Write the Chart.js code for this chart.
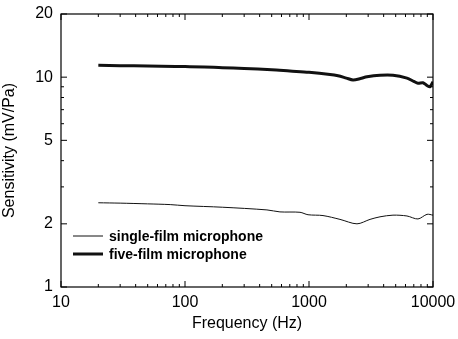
<!DOCTYPE html>
<html>
<head>
<meta charset="utf-8">
<script src="https://cdn.jsdelivr.net/npm/chart.js@4"></script>
<style>
  html, body { margin: 0; padding: 0; background: #fff; }
  #wrap { width: 458px; height: 339px; }
</style>
</head>
<body>
<div id="wrap"><canvas id="c" width="458" height="339"></canvas></div>
<script>
// ---- data ----
const freqSingle = [20, 30, 50, 76, 100, 200, 458, 583, 846, 982, 1297, 1778, 2438, 3105, 3738, 4757, 6166, 7568, 8950, 10000];
const singleFilm = [2.52, 2.51, 2.49, 2.47, 2.44, 2.40, 2.33, 2.28, 2.27, 2.21, 2.19, 2.10, 2.00, 2.10, 2.16, 2.20, 2.18, 2.11, 2.22, 2.20];

const freqFive = [20, 30, 50, 100, 200, 300, 500, 700, 1000, 1476, 1714, 2000, 2264, 2600, 2937, 3738, 4757, 6166, 7000, 7568, 8300, 9000, 9460, 10000];
const fiveFilm = [11.4, 11.35, 11.3, 11.25, 11.1, 11.0, 10.85, 10.7, 10.55, 10.3, 10.15, 9.9, 9.7, 9.85, 10.05, 10.22, 10.22, 9.9, 9.55, 9.35, 9.41, 9.1, 9.0, 9.5];

const seriesNames = ['single-film microphone', 'five-film microphone'];

const xMajor = [10, 100, 1000, 10000];
const xMinor = [20, 30, 40, 50, 60, 70, 80, 90, 200, 300, 400, 500, 600, 700, 800, 900,
                2000, 3000, 4000, 5000, 6000, 7000, 8000, 9000];
const yMajor = [1, 2, 5, 10, 20];
const yMinor = [3, 4, 6, 7, 8, 9];

const FONT = "'Liberation Sans', Arial, Helvetica, sans-serif";
Chart.defaults.font.family = FONT;
Chart.defaults.color = '#000';

const pts = (xs, ys) => xs.map((x, i) => ({ x, y: ys[i] }));

// frame, inward ticks on all four sides, legend inside the plot
const framePlugin = {
  id: 'frame',
  afterDraw(chart) {
    const { ctx, chartArea: { left, right, top, bottom }, scales: { x, y } } = chart;
    ctx.save();
    ctx.strokeStyle = '#000';
    ctx.lineWidth = 1.2;
    ctx.strokeRect(left, top, right - left, bottom - top);

    ctx.lineWidth = 1;
    const tick = (x1, y1, x2, y2) => { ctx.beginPath(); ctx.moveTo(x1, y1); ctx.lineTo(x2, y2); ctx.stroke(); };
    xMajor.forEach(v => { const p = x.getPixelForValue(v); tick(p, bottom, p, bottom - 6); tick(p, top, p, top + 6); });
    xMinor.forEach(v => { const p = x.getPixelForValue(v); tick(p, bottom, p, bottom - 3); tick(p, top, p, top + 3); });
    yMajor.forEach(v => { const p = y.getPixelForValue(v); tick(left, p, left + 6, p); tick(right, p, right - 6, p); });
    yMinor.forEach(v => { const p = y.getPixelForValue(v); tick(left, p, left + 3, p); tick(right, p, right - 3, p); });

    // legend
    const lx = left + 12, ly = bottom - 51;
    chart.data.datasets.forEach((ds, i) => {
      const yy = ly + i * 18;
      ctx.strokeStyle = ds.borderColor;
      ctx.lineWidth = ds.borderWidth;
      tick(lx, yy, lx + 30, yy);
      ctx.fillStyle = '#000';
      ctx.font = 'bold 14px ' + FONT;
      ctx.textBaseline = 'middle';
      ctx.fillText(ds.label, lx + 36, yy + 1);
    });
    ctx.restore();
  }
};

new Chart(document.getElementById('c'), {
  type: 'line',
  data: {
    datasets: [
      {
        label: seriesNames[0],
        data: pts(freqSingle, singleFilm),
        borderColor: '#111',
        borderWidth: 1,
        pointRadius: 0,
        tension: 0.3,
      },
      {
        label: seriesNames[1],
        data: pts(freqFive, fiveFilm),
        borderColor: '#111',
        borderWidth: 3,
        pointRadius: 0,
        tension: 0.3,
      }
    ]
  },
  options: {
    responsive: false,
    animation: false,
    layout: { padding: { left: 0, top: 14, right: 25, bottom: 0 } },
    plugins: { legend: { display: false }, tooltip: { enabled: false } },
    scales: {
      x: {
        type: 'logarithmic',
        min: 10, max: 10000,
        afterBuildTicks: s => { s.ticks = xMajor.map(v => ({ value: v })); },
        afterFit: s => { s.height = 52; s.paddingLeft = 0; s.paddingRight = 0; },
        grid: { display: false, drawTicks: false },
        border: { display: false },
        ticks: {
          padding: 6,
          maxRotation: 0,
          font: { size: 16 },
          callback: v => String(v)
        },
        title: { display: true, text: 'Frequency (Hz)', font: { size: 16 }, padding: { top: 0, bottom: 6 } }
      },
      y: {
        type: 'logarithmic',
        min: 1, max: 20,
        afterBuildTicks: s => { s.ticks = yMajor.map(v => ({ value: v })); },
        afterFit: s => { s.width = 61; s.paddingTop = 0; s.paddingBottom = 0; },
        grid: { display: false, drawTicks: false },
        border: { display: false },
        ticks: {
          padding: 8,
          font: { size: 16 },
          callback: v => String(v)
        },
        title: { display: true, text: 'Sensitivity (mV/Pa)', font: { size: 16 }, padding: { top: 0, bottom: 0 } }
      }
    }
  },
  plugins: [framePlugin]
});
</script>
</body>
</html>
